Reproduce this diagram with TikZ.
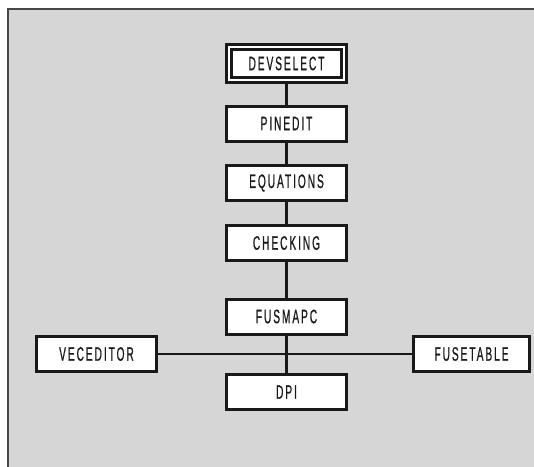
\documentclass[tikz,border=0pt]{standalone}
\usepackage{fontspec}
\setmainfont{Liberation Sans}[FakeStretch=0.52, LetterSpace=10, FakeBold=0.6]
\definecolor{panel}{RGB}{214,214,214}
\definecolor{ink}{RGB}{25,25,25}
\begin{document}
\begin{tikzpicture}[x=1pt, y=-1pt,
  modbox/.style={draw=ink, line width=3pt, fill=white, minimum width=120pt,
    minimum height=35pt, inner sep=0pt, font=\fontsize{19.5}{19.5}\selectfont, text=ink},
  topbox/.style={modbox, double=white, double distance=2.4pt, line width=2.8pt,
    minimum width=115pt, minimum height=33pt},
  link/.style={draw=ink, line width=2.2pt}]
  \useasboundingbox (0,0) rectangle (534,466);
  % panel
  \draw[fill=panel, draw=ink!80, line width=1.6pt] (8,9) rectangle (545,480);
  % main column
  \node[topbox] (dev) at (286.5,63.5) {DEVSELECT};
  \node[modbox] (pin) at (286.5,123.5) {PINEDIT};
  \node[modbox] (equ) at (286.5,183) {EQUATIONS};
  \node[modbox] (chk) at (286.5,243) {CHECKING};
  \node[modbox] (fus) at (286.5,316.5) {FUSMAPC};
  \node[modbox] (dpi) at (286.5,392) {DPI};
  % side tools
  \node[modbox] (vec) at (96.5,354) {VECEDITOR};
  \node[modbox, minimum width=116pt] (ftb) at (471.5,354) {FUSETABLE};
  % connectors
  \draw[link] (dev) -- (pin);
  \draw[link] (pin) -- (equ);
  \draw[link] (equ) -- (chk);
  \draw[link] (chk) -- (fus);
  \draw[link] (fus) -- (dpi);
  \draw[link] (vec.east) -- (ftb.west);
\end{tikzpicture}
\end{document}
